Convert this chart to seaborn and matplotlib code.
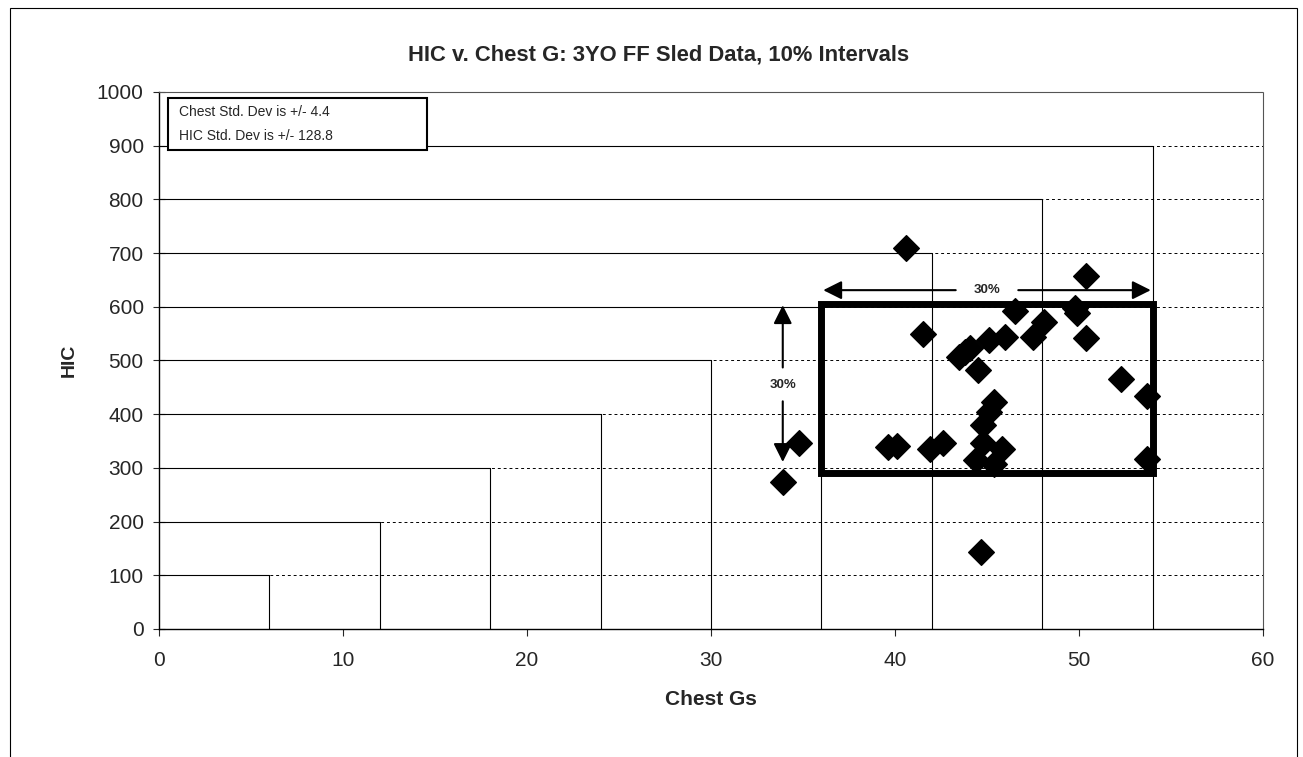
import matplotlib
matplotlib.use("Agg")
import matplotlib.pyplot as plt
import seaborn as sns
import pandas as pd
from matplotlib.patches import Rectangle

# ---- data ----
chest_g = [40.6, 50.4, 46.5, 49.8, 49.9, 48.1, 41.5, 45.1, 46.0, 47.5, 50.4,
           44.1, 43.5, 43.8, 44.5, 52.3, 53.7, 45.4, 45.1, 44.8, 44.8, 45.8,
           44.4, 45.4, 53.7, 34.8, 33.9, 39.6, 40.1, 41.9, 42.6, 44.7]
hic = [709, 657, 592, 598, 588, 571, 549, 538, 543, 544, 541,
       523, 507, 515, 482, 466, 433, 423, 405, 380, 346, 336,
       315, 308, 316, 346, 274, 338, 341, 336, 346, 144]
step_x = [6, 12, 18, 24, 30, 36, 42, 48, 54]
step_y = [100, 200, 300, 400, 500, 600, 700, 800, 900]
box_x = [36, 54]
box_y = [290, 605]
x_ticks = [0, 10, 20, 30, 40, 50, 60]
y_ticks = [0, 100, 200, 300, 400, 500, 600, 700, 800, 900, 1000]
title = "HIC v. Chest G: 3YO FF Sled Data, 10% Intervals"
stats_lines = ["Chest Std. Dev is +/- 4.4", "HIC Std. Dev is +/- 128.8"]

sns.set_style("white")
plt.rcParams['font.family'] = ['Liberation Sans', 'DejaVu Sans']

fig = plt.figure(figsize=(13.03, 7.57), dpi=100)
ax = fig.add_axes([159/1303, 1-629/757, (1263-159)/1303, (629-92)/757])

# figure border
fig.patches.append(Rectangle((10/1303, -0.05), (1297-10)/1303, 1.05 - 8/757,
                             transform=fig.transFigure, fill=False,
                             edgecolor='black', linewidth=0.8))

# dashed gridlines
for yv in y_ticks[1:-1]:
    ax.axhline(yv, color='black', linestyle=(0, (3, 3)), linewidth=0.7, zorder=1)

# step boxes
for sx, sy in zip(step_x, step_y):
    ax.plot([0, sx], [sy, sy], color='black', linewidth=0.8, zorder=2)
    ax.plot([sx, sx], [0, sy], color='black', linewidth=0.8, zorder=2)

# data
df = pd.DataFrame({"Chest Gs": chest_g, "HIC": hic})
sns.scatterplot(data=df, x="Chest Gs", y="HIC", marker='D', s=170,
                color='black', edgecolor='black', ax=ax, zorder=4)

# thick box
ax.add_patch(Rectangle((box_x[0], box_y[0]), box_x[1]-box_x[0], box_y[1]-box_y[0],
                       fill=False, edgecolor='black', linewidth=5, zorder=5))

# arrows
ap = dict(arrowstyle='-|>', color='black', lw=1.5, mutation_scale=28,
          shrinkA=0, shrinkB=0)
ax.annotate("", xy=(36.1, 631), xytext=(43.3, 631), arrowprops=ap, zorder=6)
ax.annotate("", xy=(53.9, 631), xytext=(46.7, 631), arrowprops=ap, zorder=6)
ax.text(45.0, 631, "30%", ha='center', va='center', fontsize=9.5, fontweight='bold')
ax.annotate("", xy=(33.9, 603), xytext=(33.9, 487), arrowprops=ap, zorder=6)
ax.annotate("", xy=(33.9, 311), xytext=(33.9, 424), arrowprops=ap, zorder=6)
ax.text(33.9, 455, "30%", ha='center', va='center', fontsize=9.5, fontweight='bold')

# stats box
ax.add_patch(Rectangle((0.49, 892), 14.1, 97, fill=False, edgecolor='black',
                       linewidth=1.5, zorder=7))
ax.add_patch(Rectangle((0.49, 892), 14.1, 97, facecolor='white', edgecolor='none',
                       zorder=6.5))
ax.text(1.1, 963, stats_lines[0], ha='left', va='center', fontsize=10, zorder=8)
ax.text(1.1, 918, stats_lines[1], ha='left', va='center', fontsize=10, zorder=8)

ax.set_xlim(0, 60)
ax.set_ylim(0, 1000)
ax.set_xticks(x_ticks)
ax.set_yticks(y_ticks)
ax.tick_params(axis='both', labelsize=15, length=5, width=0.8,
               bottom=True, left=True)
ax.tick_params(axis='x', direction='out', pad=11)
ax.tick_params(axis='y', direction='inout', length=8, pad=7)
for s in ['left', 'bottom']:
    ax.spines[s].set_color('black')
    ax.spines[s].set_linewidth(1.0)
for s in ['top', 'right']:
    ax.spines[s].set_color('#555555')
    ax.spines[s].set_linestyle((0, (1, 1)))
    ax.spines[s].set_linewidth(0.8)

ax.set_xlabel("Chest Gs", fontsize=15, fontweight='bold', labelpad=14)
ax.set_ylabel("HIC", fontsize=14, fontweight='bold', labelpad=14)
fig.text(659/1303, 1-55/757, title, ha='center', va='center',
         fontsize=15.8, fontweight='bold')

fig.savefig("out.png", dpi=100)
